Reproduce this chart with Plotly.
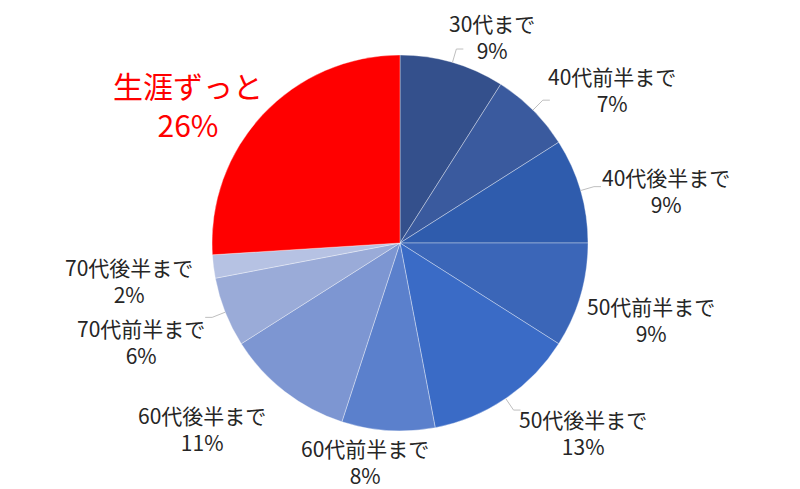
import math
import plotly.graph_objects as go

# ---- data ----
categories = ["30代まで", "40代前半まで", "40代後半まで", "50代前半まで", "50代後半まで",
              "60代前半まで", "60代後半まで", "70代前半まで", "70代後半まで", "生涯ずっと"]
values = [9, 7, 9, 9, 13, 8, 11, 6, 2, 26]

# ---- style ----
colors = ["#34508c", "#3a5a9e", "#2f5cad", "#3b66b8", "#3a6bc6",
          "#5b80cc", "#7d96d2", "#9aabd8", "#b6c2e3", "#ff0000"]
has_leader = [True, True, True, False, True, False, False, True, False, False]
W, H = 800, 489
OFF = 8  # page body margin in the browser
CX, CY, R = 400, 243, 188
LA, LB = 275, 220
nudge = [(15, 5), (18, 2), (2, 9), (-13, 15), (28, 8),
         (-18, -1), (-29, 12), (-3, 18), (2, 10), (-12, 12)]
FONT = "Noto Sans CJK JP"


def fx(px):
    return (px - OFF) / W


def fy(py):
    return 1 - (py - OFF) / H


fig = go.Figure(go.Pie(
    labels=categories, values=values, sort=False, direction="clockwise", rotation=0,
    marker=dict(colors=colors, line=dict(color="rgba(255,255,255,0.35)", width=1)),
    textinfo="none", hoverinfo="label+percent", showlegend=False,
    domain=dict(x=[fx(CX - R), fx(CX + R)], y=[fy(CY + R), fy(CY - R)]),
))

total = sum(values)
cum = 0
annotations = []
shapes = []
for i, (c, v) in enumerate(zip(categories, values)):
    mid = (cum + v / 2) / total * 2 * math.pi
    cum += v
    s, co = math.sin(mid), math.cos(mid)
    px = CX + LA * s + nudge[i][0]
    py = CY - LB * co + nudge[i][1]
    pct = f"{round(v / total * 100)}%"
    if c == "生涯ずっと":
        font = dict(size=30, color="#ff0000", family=FONT)
    else:
        font = dict(size=21, color="#262626", family=FONT)
    annotations.append(dict(
        x=fx(px), y=fy(py), xref="paper", yref="paper", text=f"{c}<br>{pct}",
        showarrow=False, font=font, xanchor="center", yanchor="middle", align="center",
        borderpad=0,
    ))
    if has_leader[i]:
        x0, y0 = CX + R * s, CY - R * co
        x1, y1 = CX + (R + 14) * s, CY - (R + 14) * co
        x2 = x1 + (7 if s > 0 else -7)
        shapes.append(dict(
            type="path", xref="paper", yref="paper",
            path=f"M {fx(x0)},{fy(y0)} L {fx(x1)},{fy(y1)} L {fx(x2)},{fy(y1)}",
            line=dict(color="#bfbfbf", width=1),
        ))

fig.update_layout(
    width=W, height=H, margin=dict(l=0, r=0, t=0, b=0),
    paper_bgcolor="white", plot_bgcolor="white",
    annotations=annotations, shapes=shapes,
)
fig.write_html("out.html")
